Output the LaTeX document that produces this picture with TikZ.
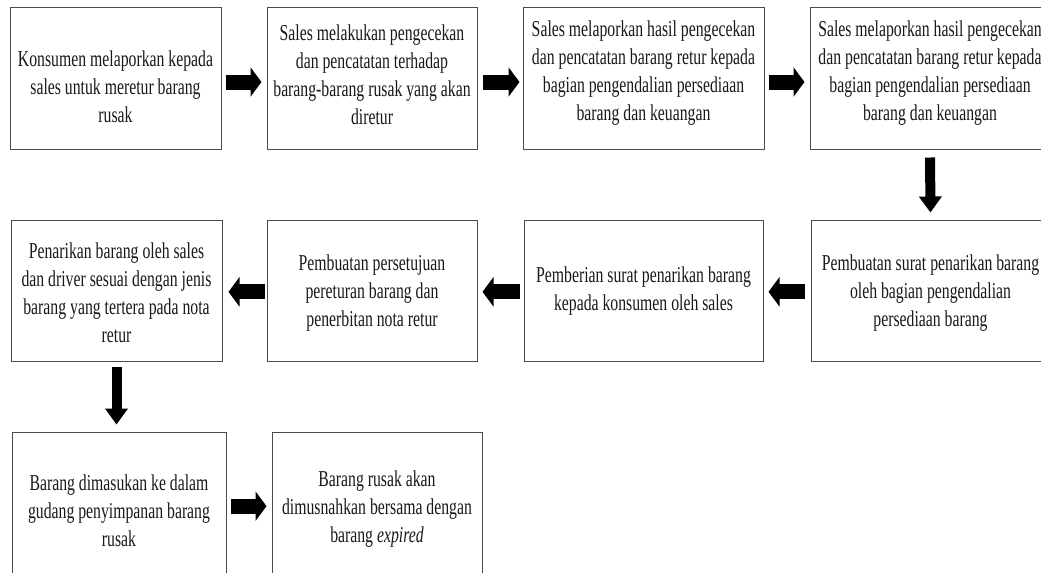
\documentclass[tikz,border=0pt]{standalone}
\usepackage{fontspec}
\setmainfont{Liberation Serif}[FakeStretch=0.695]
\usetikzlibrary{arrows.meta}
% #1 name, #2-#5 corners (px), #6 text offset (px, down), #7 text
\newcommand\mybox[7]{%
  \node[box,minimum width={(#4-#2)*0.75pt},minimum height={(#5-#3)*0.75pt}] (#1) at ({(#2+#4)/2},{(#3+#5)/2}) {};
  \node[txt] (#1t) at ({(#2+#4)/2},{(#3+#5)/2+#6}) {#7};}
\begin{document}
\begin{tikzpicture}[x=0.75pt,y=-0.75pt,
  box/.style={draw=black!70, line width=0.75pt, inner sep=0pt},
  txt/.style={align=center, inner sep=0pt, text=black!90,
    font=\fontsize{17pt}{21pt}\selectfont},
  harr/.style={line width=11.25pt, -{Triangle[length=8.25pt,width=21.75pt]}},
  varr/.style={line width=7.5pt, -{Triangle[length=12pt,width=16.5pt]}}]
\useasboundingbox (0,0) rectangle (1041,572);
\clip (0,0) rectangle (1041,572);
\fill[white] (0,0) rectangle (1041,572);
\mybox{b1}{10}{7}{221}{149}{9}{Konsumen melaporkan kepada\\ sales untuk meretur barang\\ rusak}
\mybox{b2}{267}{7}{477}{149}{-3}{Sales melakukan pengecekan\\ dan pencatatan terhadap\\ barang-barang rusak yang akan\\ diretur}
\mybox{b3}{523}{7}{764}{149}{-5}{Sales melaporkan hasil pengecekan\\ dan pencatatan barang retur kepada\\ bagian pengendalian persediaan\\ barang dan keuangan}
\mybox{b4}{810}{7}{1050}{149}{-5}{Sales melaporkan hasil pengecekan\\ dan pencatatan barang retur kepada\\ bagian pengendalian persediaan\\ barang dan keuangan}
\mybox{b5}{11}{220}{222}{361}{2}{Penarikan barang oleh sales\\ dan driver sesuai dengan jenis\\ barang yang tertera pada nota\\ retur}
\mybox{b6}{267}{220}{477}{361}{3}{Pembuatan persetujuan\\ pereturan barang dan\\ penerbitan nota retur}
\mybox{b7}{524}{220}{763}{361}{1}{Pemberian surat penarikan barang\\ kepada konsumen oleh sales}
\mybox{b8}{811}{220}{1050}{361}{3}{Pembuatan surat penarikan barang\\ oleh bagian pengendalian\\ persediaan barang}
\mybox{b9}{12}{432}{226}{575}{7}{Barang dimasukan ke dalam\\ gudang penyimpanan barang\\ rusak}
\mybox{b10}{272}{432}{482}{575}{6}{Barang rusak akan\\ dimusnahkan bersama dengan\\ barang \textit{expired}}
\draw[harr, shorten <=3pt, shorten >=3.75pt] ([yshift=-3pt]b1.east) -- ([yshift=-3pt]b2.west);
\draw[harr, shorten <=3.75pt, shorten >=2.25pt] ([yshift=-3pt]b2.east) -- ([yshift=-3pt]b3.west);
\draw[harr, shorten <=3pt, shorten >=3.75pt] ([yshift=-3pt]b3.east) -- ([yshift=-3pt]b4.west);
\draw[varr, shorten <=6pt, shorten >=5.25pt] (b4.south) -- (b8.north);
\draw[harr, shorten <=4.5pt, shorten >=3.75pt] ([yshift=-1pt]b8.west) -- ([yshift=-1pt]b7.east);
\draw[harr, shorten <=3pt, shorten >=3.75pt] ([yshift=-1pt]b7.west) -- ([yshift=-1pt]b6.east);
\draw[harr, shorten <=1.5pt, shorten >=4.5pt] ([yshift=-1pt]b6.west) -- ([yshift=-1pt]b5.east);
\draw[varr, shorten <=3.75pt, shorten >=5.25pt] (b5.south) -- (b5.south |- b9.north);
\draw[harr, shorten <=3pt, shorten >=3.75pt] ([yshift=-2pt]b9.east) -- ([yshift=-2pt]b10.west);
\end{tikzpicture}
\end{document}
